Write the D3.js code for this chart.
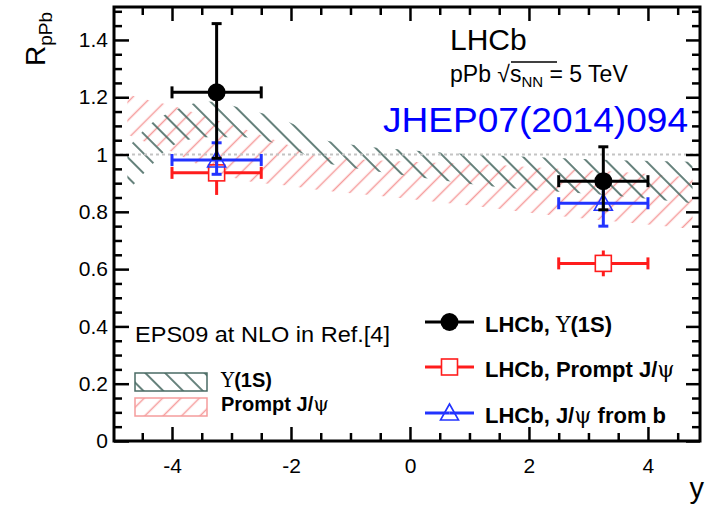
<!DOCTYPE html>
<html><head><meta charset="utf-8">
<script src="https://cdn.jsdelivr.net/npm/d3@7"></script>
<style>
body{margin:0;background:#fff;}
text{font-family:"Liberation Sans",Arial,Helvetica,sans-serif;}
</style></head>
<body><svg id="c" width="710" height="506"></svg>
<script>
// ---------------- data ----------------
const rapidity = [-3.25, 3.25];
const rapidityHalfWidth = [0.75, 0.75];
const upsilonR = [1.217, 0.907];
const upsilonErrUp = [0.24, 0.12];
const upsilonErrDown = [0.23, 0.10];
const promptJpsiR = [0.936, 0.620];
const promptJpsiErr = [0.077, 0.045];
const jpsiFromBR = [0.981, 0.830];
const jpsiFromBErrUp = [0.06, 0.06];
const jpsiFromBErrDown = [0.05, 0.08];

const bandRapidity = [-4.75, -4.4, -4.0, -3.4, -2.8, -2.0, -1.5, -1.0, 0, 1.3, 2.5, 3.5, 4.75];
const upsBandUpper = [1.02, 1.10, 1.15, 1.185, 1.16, 1.11, 1.055, 1.035, 1.015, 0.998, 0.988, 0.98, 0.975];
const upsBandLower = [0.87, 0.95, 1.03, 1.06, 1.06, 1.02, 0.975, 0.955, 0.925, 0.89, 0.87, 0.855, 0.83];
const jpsiBandUpper = [1.21, 1.19, 1.17, 1.13, 1.09, 1.03, 0.995, 0.985, 0.975, 0.965, 0.95, 0.94, 0.92];
const jpsiBandLower = [1.07, 1.04, 1.01, 0.95, 0.91, 0.89, 0.875, 0.865, 0.845, 0.815, 0.785, 0.765, 0.74];

const xTickValues = [-4, -2, 0, 2, 4];
const xTickLabels = ["-4", "-2", "0", "2", "4"];
const yTickValues = [0, 0.2, 0.4, 0.6, 0.8, 1.0, 1.2, 1.4];
const yTickLabels = ["0", "0.2", "0.4", "0.6", "0.8", "1", "1.2", "1.4"];

// ---------------- setup ----------------
const svg = d3.select("#c");
const L = 114, R = 700, T = 7, B = 441;
const x = d3.scaleLinear().domain([-4.975, 4.875]).range([L, R]);
const y = d3.scaleLinear().domain([0, 1.515]).range([B, T]);

const DARK = "#4a6b64", PINK = "#f59c9c", RED = "#ff1c1c", BLUE = "#2233ff";
const SERIF = "DejaVu Serif, serif";

const defs = svg.append("defs");
function hatch(id, color, angle, sp, w) {
  const p = defs.append("pattern").attr("id", id).attr("patternUnits", "userSpaceOnUse")
    .attr("width", sp).attr("height", sp).attr("patternTransform", `rotate(${angle})`);
  p.append("line").attr("x1", 0).attr("x2", sp).attr("y1", sp / 2).attr("y2", sp / 2)
    .attr("stroke", color).attr("stroke-width", w);
}
hatch("hDark", DARK, 45, 14, 1.7);
hatch("hRed", PINK, -45, 13, 1.5);
defs.append("clipPath").attr("id", "plotclip").append("rect")
  .attr("x", L).attr("y", T).attr("width", R - L).attr("height", B - T);

const plot = svg.append("g").attr("clip-path", "url(#plotclip)");

// bands
function band(upper, lower, fill) {
  const pts = bandRapidity.map((r, i) => ({r, u: upper[i], l: lower[i]}));
  const area = d3.area().x(d => x(d.r)).y0(d => y(d.l)).y1(d => y(d.u)).curve(d3.curveMonotoneX);
  plot.append("path").datum(pts).attr("d", area).attr("fill", fill).attr("stroke", "none");
}
band(jpsiBandUpper, jpsiBandLower, "url(#hRed)");
band(upsBandUpper, upsBandLower, "url(#hDark)");

// dotted unity line
plot.append("line").attr("x1", L).attr("x2", R).attr("y1", y(1)).attr("y2", y(1))
  .attr("stroke", "#c4c4c4").attr("stroke-width", 2).attr("stroke-dasharray", "3,3");

// ---------------- axes ----------------
function minorRange(a, b, s) { const o = []; for (let v = a; v <= b + 1e-9; v += s) o.push(+v.toFixed(4)); return o; }
const xMinor = minorRange(-4.5, 4.5, 0.5).filter(v => !xTickValues.includes(v));
const yMinor = minorRange(0.05, 1.5, 0.05).filter(v => !yTickValues.some(t => Math.abs(t - v) < 1e-6));

function styleAxis(g) {
  g.select(".domain").remove();
  g.selectAll(".tick line").attr("stroke", "#000").attr("stroke-width", 2.5);
  g.selectAll(".tick text").attr("fill", "#000");
}
const gx = svg.append("g").attr("transform", `translate(0,${B})`)
  .call(d3.axisBottom(x).tickValues(xTickValues).tickSize(-14).tickPadding(17)
    .tickFormat((d, i) => xTickLabels[i]));
styleAxis(gx);
gx.selectAll(".tick text").attr("font-size", 21).attr("font-family", "Liberation Sans, Arial, sans-serif");
svg.append("g").attr("transform", `translate(0,${B})`)
  .call(d3.axisBottom(x).tickValues(xMinor).tickSize(-8).tickFormat("")).call(styleAxis);
svg.append("g").attr("transform", `translate(0,${T})`)
  .call(d3.axisTop(x).tickValues(xTickValues).tickSize(-14).tickFormat("")).call(styleAxis);
svg.append("g").attr("transform", `translate(0,${T})`)
  .call(d3.axisTop(x).tickValues(xMinor).tickSize(-8).tickFormat("")).call(styleAxis);

const gy = svg.append("g").attr("transform", `translate(${L},0)`)
  .call(d3.axisLeft(y).tickValues(yTickValues).tickSize(-15).tickPadding(6)
    .tickFormat((d, i) => yTickLabels[i]));
styleAxis(gy);
gy.selectAll(".tick text").attr("font-size", 21).attr("font-family", "Liberation Sans, Arial, sans-serif");
svg.append("g").attr("transform", `translate(${L},0)`)
  .call(d3.axisLeft(y).tickValues(yMinor).tickSize(-8).tickFormat("")).call(styleAxis);
svg.append("g").attr("transform", `translate(${R},0)`)
  .call(d3.axisRight(y).tickValues(yTickValues).tickSize(-14).tickFormat("")).call(styleAxis);
svg.append("g").attr("transform", `translate(${R},0)`)
  .call(d3.axisRight(y).tickValues(yMinor).tickSize(-8).tickFormat("")).call(styleAxis);

svg.append("rect").attr("x", L).attr("y", T).attr("width", R - L).attr("height", B - T)
  .attr("fill", "none").attr("stroke", "#000").attr("stroke-width", 3);

// axis titles
const yt = svg.append("text").attr("transform", "translate(45,66) rotate(-90)").attr("font-size", 28).attr("fill", "#000");
yt.append("tspan").text("R");
yt.append("tspan").attr("font-size", 19).attr("dy", 7).text("pPb");
svg.append("text").attr("x", 704).attr("y", 498).attr("text-anchor", "end").attr("font-size", 29).text("y");

// ---------------- data marks ----------------
const g = svg.append("g");
function seg(x1, y1, x2, y2, c, w) {
  g.append("line").attr("x1", x1).attr("y1", y1).attr("x2", x2).attr("y2", y2)
    .attr("stroke", c).attr("stroke-width", w).attr("stroke-linecap", "butt");
}
function series(vals, eu, ed, color, gap, caps, marker) {
  rapidity.forEach((r, i) => {
    const cx = x(r), cy = y(vals[i]);
    const xl = x(r - rapidityHalfWidth[i]), xr = x(r + rapidityHalfWidth[i]);
    const yu = y(vals[i] + eu[i]), yd = y(vals[i] - ed[i]);
    seg(xl, cy, cx - gap, cy, color, 3);
    seg(cx + gap, cy, xr, cy, color, 3);
    seg(xl, cy - 6, xl, cy + 6, color, 3);
    seg(xr, cy - 6, xr, cy + 6, color, 3);
    if (yu < cy - gap) seg(cx, yu, cx, cy - gap, color, 3);
    if (yd > cy + gap) seg(cx, cy + gap, cx, yd, color, 3);
    if (caps) {
      seg(cx - 5, yu, cx + 5, yu, color, 3);
      seg(cx - 5, yd, cx + 5, yd, color, 3);
    }
    marker(cx, cy);
  });
}
function square(cx, cy) {
  g.append("rect").attr("x", cx - 8).attr("y", cy - 8).attr("width", 16).attr("height", 16)
    .attr("fill", "none").attr("stroke", RED).attr("stroke-width", 1.6);
}
function triangle(cx, cy) {
  g.append("path").attr("d", `M${cx},${cy - 9}L${cx + 9},${cy + 7}L${cx - 9},${cy + 7}Z`)
    .attr("fill", "none").attr("stroke", BLUE).attr("stroke-width", 1.6);
}
function circle(cx, cy) {
  g.append("circle").attr("cx", cx).attr("cy", cy).attr("r", 9).attr("fill", "#000");
}
series(promptJpsiR, promptJpsiErr, promptJpsiErr, RED, 8, false, square);
series(jpsiFromBR, jpsiFromBErrUp, jpsiFromBErrDown, BLUE, 0, true, triangle);
series(upsilonR, upsilonErrUp, upsilonErrDown, "#000", 0, true, circle);

// ---------------- texts ----------------
svg.append("text").attr("x", 450).attr("y", 50).attr("font-size", 30).text("LHCb");
const en = svg.append("text").attr("x", 450).attr("y", 82).attr("font-size", 23);
en.append("tspan").text("pPb ");
en.append("tspan").text("\u221A");
en.append("tspan").text("s");
en.append("tspan").attr("font-size", 15).attr("dy", 5).text("NN");
en.append("tspan").attr("dy", -5).text(" = 5 TeV");
svg.append("line").attr("x1", 511).attr("x2", 557).attr("y1", 62).attr("y2", 62).attr("stroke", "#000").attr("stroke-width", 1.3);
svg.append("text").attr("x", 383).attr("y", 132).attr("font-size", 35).attr("fill", "#0000ff")
  .attr("textLength", 305).attr("lengthAdjust", "spacingAndGlyphs").text("JHEP07(2014)094");

// left legend
svg.append("text").attr("x", 135).attr("y", 342).attr("font-size", 22)
  .attr("textLength", 255).attr("lengthAdjust", "spacingAndGlyphs").text("EPS09 at NLO in Ref.[4]");
svg.append("rect").attr("x", 135).attr("y", 373).attr("width", 72).attr("height", 18)
  .attr("fill", "url(#hDark)").attr("stroke", DARK).attr("stroke-width", 1.5);
svg.append("rect").attr("x", 135).attr("y", 398).attr("width", 72).attr("height", 18)
  .attr("fill", "url(#hRed)").attr("stroke", PINK).attr("stroke-width", 1.5);
const lu = svg.append("text").attr("x", 221).attr("y", 387).attr("font-size", 20).attr("font-weight", "bold");
lu.append("tspan").attr("font-family", SERIF).attr("font-weight", "normal").text("\u03A5");
lu.append("tspan").text("(1S)");
const lp = svg.append("text").attr("x", 221).attr("y", 411).attr("font-size", 20).attr("font-weight", "bold");
lp.append("tspan").text("Prompt J/");
lp.append("tspan").attr("font-family", SERIF).attr("font-weight", "normal").text("\u03C8");

// right legend
const legRows = [322, 367, 413];
const legColors = ["#000", RED, BLUE];
const legMarkers = [circle, square, triangle];
const legendParts = [
  [["LHCb,  ", false], ["\u03A5", true], ["(1S)", false]],
  [["LHCb, Prompt J/", false], ["\u03C8", true]],
  [["LHCb, J/", false], ["\u03C8", true], [" from b", false]]
];
legRows.forEach((ry, i) => {
  const gap = i === 1 ? 8 : 0;
  seg(425, ry, 449.5 - gap, ry, legColors[i], 3);
  seg(449.5 + gap, ry, 474, ry, legColors[i], 3);
  legMarkers[i](449.5, ry);
  const t = svg.append("text").attr("x", 485).attr("y", ry + 10).attr("font-size", 22).attr("font-weight", "bold");
  legendParts[i].forEach(([s, serif]) => {
    const sp = t.append("tspan").text(s);
    if (serif) sp.attr("font-family", SERIF).attr("font-weight", "normal");
  });
});
</script></body></html>
